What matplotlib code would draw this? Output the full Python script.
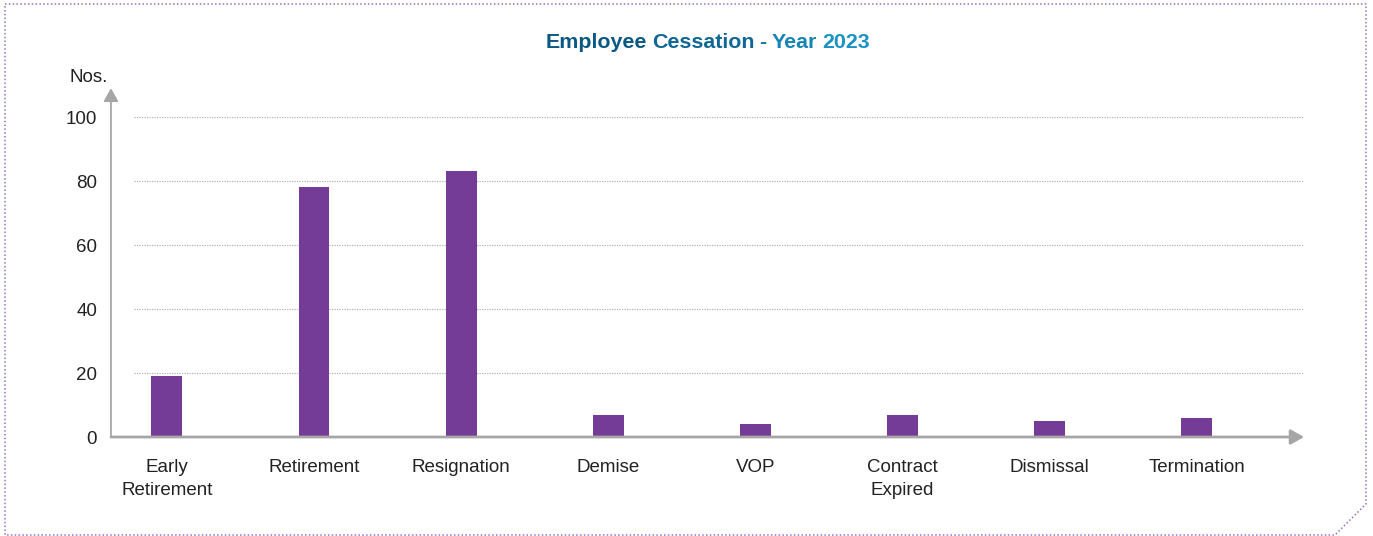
import matplotlib.pyplot as plt
from matplotlib.lines import Line2D
from matplotlib.offsetbox import TextArea, HPacker, AnchoredOffsetbox
import numpy as np

plt.rcParams['font.family'] = ['Liberation Sans', 'DejaVu Sans']

categories = ['Early\nRetirement', 'Retirement', 'Resignation', 'Demise',
              'VOP', 'Contract\nExpired', 'Dismissal', 'Termination']
counts = [19, 78, 83, 7, 4, 7, 5, 6]
y_ticks = [0, 20, 40, 60, 80, 100]
title_words = ['Employee', 'Cessation', '-', 'Year', '2023']

bar_color = '#743c96'
axis_color = '#a6a6a6'

fig = plt.figure(figsize=(13.73, 5.36), dpi=100)
ax = fig.add_axes((0.0808, 0.1847, 0.869, 0.597))

x = list(range(len(categories)))
ax.bar(x, counts, width=0.21, color=bar_color, zorder=3)

ax.set_xlim(-0.38, 7.73)
ax.set_ylim(0, 100)
ax.set_yticks(y_ticks)
ax.set_xticks(x)
ax.set_xticklabels(categories, fontsize=13.5, color='#222222', linespacing=1.45)
ax.tick_params(axis='y', labelsize=13.5, colors='#222222', length=0, pad=10)
ax.tick_params(axis='x', length=0, pad=16)

# dotted horizontal gridlines, starting a little right of the y axis
for t in y_ticks[1:]:
    ax.plot([-0.22, 7.73], [t, t], linestyle=(0, (1, 1)), color='#b5b5b5',
            linewidth=0.9, zorder=1)

for s in ['top', 'right', 'left', 'bottom']:
    ax.spines[s].set_visible(False)

# axes with arrow heads
ax.annotate('', xy=(0, 1.09), xytext=(0, 0), xycoords='axes fraction',
            arrowprops=dict(arrowstyle='-|>,head_length=0.8,head_width=0.45',
                            color=axis_color, lw=1.3, shrinkA=0, shrinkB=0))
ax.annotate('', xy=(1.0, 0), xytext=(0, 0), xycoords='axes fraction',
            arrowprops=dict(arrowstyle='-|>,head_length=0.8,head_width=0.45',
                            color=axis_color, lw=2, shrinkA=0, shrinkB=0))

ax.text(-0.035, 1.097, 'Nos.', transform=ax.transAxes, fontsize=13.5,
        color='#222222', ha='left', va='bottom')

# title with a dark-to-light blue gradient across the words
c0 = np.array([0x0a, 0x58, 0x84]) / 255
c1 = np.array([0x1a, 0x92, 0xc4]) / 255
areas = []
for i, w in enumerate(title_words):
    c = c0 + (c1 - c0) * i / (len(title_words) - 1)
    areas.append(TextArea(w, textprops=dict(fontsize=15.4, fontweight='bold',
                                            color=tuple(c))))
pack = HPacker(children=areas, align='baseline', pad=0, sep=3.6)
title_box = AnchoredOffsetbox(loc='center', child=pack, frameon=False,
                              bbox_to_anchor=(0.5, 1.232),
                              bbox_transform=ax.transAxes, borderpad=0)
ax.add_artist(title_box)

# dotted frame with a clipped bottom-right corner
W, H = 1373, 536
pts = [(5, 4), (1366, 4), (1366, 504), (1335, 535), (5, 535), (5, 4)]
fx = [p[0] / W for p in pts]
fy = [1 - p[1] / H for p in pts]
fig.lines.append(Line2D(fx, fy, transform=fig.transFigure, color='#9b6fc0',
                        linestyle=(0, (1, 1.5)), linewidth=1.1))

plt.savefig('out.png', dpi=100, facecolor='white')
plt.close()
